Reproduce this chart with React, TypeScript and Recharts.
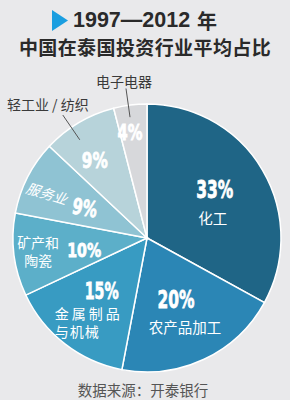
import { PieChart, Pie, Cell } from 'recharts';

const categories = ['化工', '农产品加工', '金属制品与机械', '矿产和陶瓷', '服务业', '轻工业 / 纺织', '电子电器'];
const shares = [33, 20, 15, 10, 9, 9, 4];
const nameLines = [['化工'], ['农产品加工'], ['金属制品', '与机械'], ['矿产和', '陶瓷'], ['服务业'], ['轻工业 / 纺织'], ['电子电器']];

const colors = ['#1f6586', '#2b86b5', '#389bc2', '#5cafc9', '#8fc3d3', '#b7d3da', '#d7d8db'];

const data = categories.map((name, i) => ({ name, value: shares[i] }));

// label placement per slice: radius / angle tweak for the % text, font size, squeezed width
const pctLayout = [
  { r: 83, da: 4.6, size: 24, w: 37 },
  { r: 68, da: 0, size: 24, w: 37 },
  { r: 70, da: -2.5, size: 23, w: 34 },
  { r: 64, da: 3.6, size: 20, w: 34 },
  { r: 69, da: 1.2, size: 22, w: 25 },
  { r: 94, da: 3.1, size: 22, w: 26 },
  { r: 107, da: 1.9, size: 21, w: 25 },
];

const RADIAN = Math.PI / 180;
const pctFont = '"DejaVu Sans", sans-serif';
const cjkFont = '"Noto Sans CJK SC", sans-serif';

function polar(cx: number, cy: number, r: number, deg: number) {
  return { x: cx + r * Math.cos(-deg * RADIAN), y: cy + r * Math.sin(-deg * RADIAN) };
}

function renderLabel(props: any) {
  const { cx, cy, midAngle, index, value } = props;
  const cfg = pctLayout[index];
  const p = polar(cx, cy, cfg.r, midAngle + cfg.da);
  const lines = nameLines[index];
  const label = `${value}%`;
  // DejaVu Sans Bold advance widths: digits 0.696em, % 1.002em -> squeeze to the condensed look
  const natural = cfg.size * (0.696 * (label.length - 1) + 1.002);
  const sx = cfg.w / natural;
  const tilt = index === 4 ? ' rotate(10)' : '';
  const pct = (
    <text
      x={0}
      y={0}
      textAnchor="middle"
      dominantBaseline="central"
      fill="#fff"
      stroke="#fff"
      strokeWidth={0.8}
      fontFamily={pctFont}
      fontWeight="bold"
      fontSize={cfg.size}
      transform={`translate(${p.x} ${p.y})${tilt} scale(${sx} 1)`}
    >
      {label}
    </text>
  );
  const nameProps = { fill: '#fff', fontFamily: cjkFont, fontSize: 14, dominantBaseline: 'central' as const };

  if (index === 0 || index === 1) {
    const dx = index === 0 ? -2 : 9;
    return (
      <g>
        {pct}
        <text x={p.x + dx} y={p.y + 27} textAnchor="middle" {...nameProps} fontSize={14.5}>{lines[0]}</text>
      </g>
    );
  }
  if (index === 2) {
    return (
      <g>
        {pct}
        <text x={p.x - 47} y={p.y + 22} textAnchor="start" letterSpacing={3} {...nameProps}>{lines[0]}</text>
        <text x={p.x - 47} y={p.y + 40} textAnchor="start" letterSpacing={1} {...nameProps}>{lines[1]}</text>
      </g>
    );
  }
  if (index === 3) {
    return (
      <g>
        {pct}
        <text x={p.x - 46} y={p.y - 8} textAnchor="middle" {...nameProps}>{lines[0]}</text>
        <text x={p.x - 46} y={p.y + 10} textAnchor="middle" {...nameProps}>{lines[1]}</text>
      </g>
    );
  }
  if (index === 4) {
    const nx = p.x - 38;
    const ny = p.y - 15;
    return (
      <g>
        {pct}
        <text x={nx} y={ny} textAnchor="middle" transform={`rotate(17 ${nx} ${ny})`} fontStyle="italic" {...nameProps}>
          {lines[0]}
        </text>
      </g>
    );
  }
  // outside labels with leader lines
  const lineAngle = index === 5 ? midAngle + 3.8 : midAngle + 0.8;
  const a = polar(cx, cy, index === 5 ? 119 : 122, lineAngle);
  const b = polar(cx, cy, index === 5 ? 149 : 151, lineAngle);
  const tx = index === 5 ? b.x - 15 : b.x - 2;
  const ty = index === 5 ? b.y - 11 : b.y - 7;
  return (
    <g>
      {pct}
      <line x1={a.x} y1={a.y} x2={b.x} y2={b.y} stroke="#555" strokeWidth={1} />
      <text x={tx} y={ty} textAnchor="middle" fill="#3a3a3a" fontFamily={cjkFont} fontSize={14} dominantBaseline="central">
        {lines[0]}
      </text>
    </g>
  );
}

export default function App() {
  return (
    <div style={{ position: 'fixed', left: 0, top: 0, width: 290, height: 400, background: '#e9e9eb', overflow: 'hidden' }}>
      <svg width={290} height={400} style={{ position: 'absolute', left: 0, top: 0 }}>
        <polygon points="52,10 52,31 68,20.5" fill="#1a9ee0" />
        <text x={73} y={20} dominantBaseline="central" fontFamily='"Liberation Sans", sans-serif' fontWeight="bold" fontSize={21.5}
          fill="#2a2a2a">
          1997—2012
        </text>
        <text x={197} y={20} dominantBaseline="central" fontFamily={cjkFont} fontWeight="bold" fontSize={20} fill="#2a2a2a">
          年
        </text>
        <text x={145} y={46} textAnchor="middle" dominantBaseline="central" fontFamily={cjkFont} fontWeight="bold" fontSize={19}
          fill="#2a2a2a" letterSpacing={0.4}>
          中国在泰国投资行业平均占比
        </text>
        <text x={143} y={389} textAnchor="middle" dominantBaseline="central" fontFamily={cjkFont} fontSize={14.5} fill="#555">
          数据来源：开泰银行
        </text>
      </svg>
      <div style={{ position: 'absolute', left: 0, top: 0 }}>
        <PieChart width={290} height={400} margin={{ top: 0, right: 0, bottom: 0, left: 0 }}>
          <Pie
            data={data}
            dataKey="value"
            nameKey="name"
            cx={147}
            cy={238}
            outerRadius={134}
            startAngle={90}
            endAngle={-270}
            stroke="#ffffff"
            strokeWidth={1.5}
            label={renderLabel}
            labelLine={false}
            isAnimationActive={false}
          >
            {data.map((d, i) => (
              <Cell key={d.name} fill={colors[i]} />
            ))}
          </Pie>
        </PieChart>
      </div>
    </div>
  );
}
